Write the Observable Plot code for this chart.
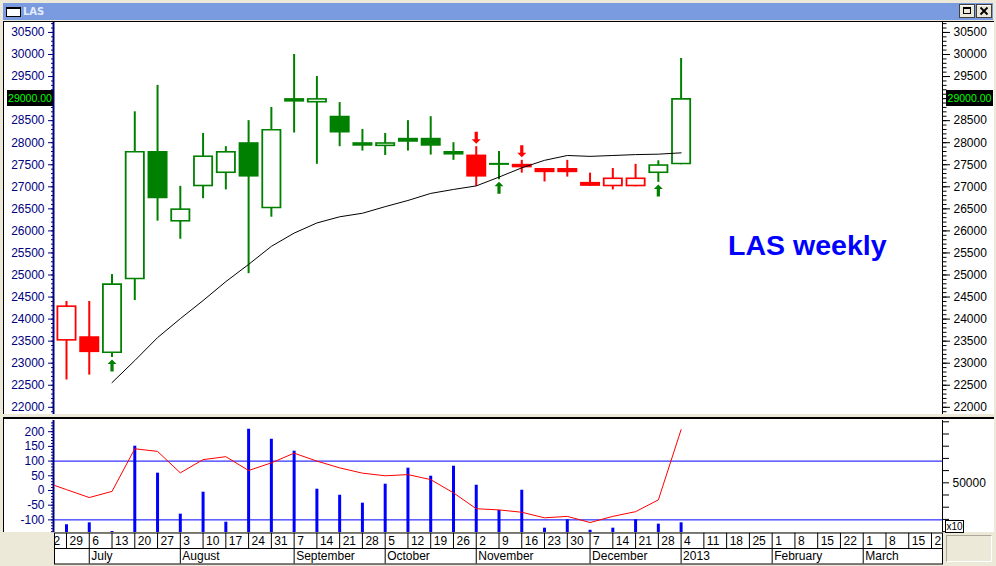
<!DOCTYPE html>
<html><head><meta charset="utf-8">
<script src="https://cdn.jsdelivr.net/npm/d3@7"></script>
<script src="https://cdn.jsdelivr.net/npm/@observablehq/plot@0.6"></script>
<style>
html,body{margin:0;padding:0;background:#ece9d8;}
#root{position:relative;width:996px;height:566px;overflow:hidden;background:#ece9d8;font-family:"Liberation Sans",Arial,sans-serif;}
#root > *{position:absolute;box-sizing:border-box;}
</style></head><body><div id="root"></div>
<script>
// ---------------- data ----------------
const candleDates = ["2012-06-29","2012-07-06","2012-07-13","2012-07-20","2012-07-27","2012-08-03","2012-08-10","2012-08-17","2012-08-24","2012-08-31","2012-09-07","2012-09-14","2012-09-21","2012-09-28","2012-10-05","2012-10-12","2012-10-19","2012-10-26","2012-11-02","2012-11-09","2012-11-16","2012-11-23","2012-11-30","2012-12-07","2012-12-14","2012-12-21","2012-12-28","2013-01-04"];
const opens  = [23500,23600,23220,24890,27800,26200,27000,27300,28000,26500,29000,28900,28600,28000,27910,28100,28100,27800,27720,27520,27510,27415,27415,27100,27000,27000,27300,27500];
const highs  = [24400,24400,25010,28700,29300,27010,28210,27910,28500,28800,30000,29500,28910,28300,28210,28500,28590,28000,27910,27800,27600,27415,27600,27310,27415,27510,27590,29910];
const lows   = [22620,22730,23130,24420,26220,25810,26730,26930,25030,26310,28220,27510,27910,27810,27710,27810,27720,27600,27010,27160,27310,27110,27220,27010,26930,27000,27100,27500];
const closes = [24300,23240,24800,27800,26730,26500,27700,27800,27220,28300,28920,29000,28220,27920,28000,28010,27920,27720,27220,27520,27430,27320,27320,27010,27200,27200,27500,29000];
const candleTrend = ["down","down","up","up","up","up","up","up","up","up","up","up","up","up","up","up","up","up","down","up","down","down","down","down","down","down","up","up"];
const maValues = [null,null,22560,23060,23580,24010,24420,24850,25240,25650,25950,26180,26320,26400,26550,26690,26850,26940,27020,27220,27430,27600,27710,27690,27710,27730,27740,27770];
const buySignals  = ["2012-07-13","2012-11-09","2012-12-28"];
const sellSignals = ["2012-11-02","2012-11-16"];

const cciWeeks  = ["2012-06-22", ...candleDates];
const cciValues = [30,3,-24,-3,142,133,60,105,115,68,94,127,100,77,59,50,54,37,-8,-62,-66,-74,-93,-88,-109,-88,-72,-32,207];
const cciBands  = [100,-100];
const volumes   = [15600,17200,10100,80000,57900,24300,42300,17700,93900,85700,75900,44750,39800,33300,48850,62000,55400,63600,48000,27300,43900,12800,19700,11100,12800,19700,16100,17200];

const priceTicks = d3.range(22000, 30501, 500);
const priceMinor = d3.range(21900, 30701, 100);
const cciTicks = [-100,-50,0,50,100,150,200];
const cciMinor = d3.range(-140, 231, 10);
const volTicks = d3.range(10000, 100001, 10000);
const volLabel = 50000;

const weekLabels = ["22","29","6","13","20","27","3","10","17","24","31","7","14","21","28","5","12","19","26","2","9","16","23","30","7","14","21","28","4","11","18","25","1","8","15","22","1","8","15","22"];
const monthStarts = ["2012-07-06","2012-08-03","2012-09-07","2012-10-05","2012-11-02","2012-12-07","2013-01-04","2013-02-01","2013-03-01"];
const monthLabels = ["July","August","September","October","November","December","2013","February","March"];

// ---------------- helpers ----------------
const NAVY = "#000080", GREEN = "#008000", RED = "#ff0000", BLUE = "#0000ff";
const FONT = "'Liberation Sans', Arial, sans-serif";
const parse = s => new Date(s + "T00:00:00Z");
const WEEK = 7 * 864e5;
const weekDates = d3.utcFriday.range(parse("2012-06-22"), parse("2013-03-23"));
const xDomain = [new Date(+parse(candleDates[0]) - 0.527 * WEEK), new Date(+weekDates[weekDates.length - 1] + 0.483 * WEEK)];
const trendColor = {up: GREEN, down: RED};
const lastClose = closes[closes.length - 1];

const candles = candleDates.map((d, i) => ({
  date: parse(d), open: opens[i], high: highs[i], low: lows[i], close: closes[i],
  color: trendColor[candleTrend[i]], hollow: closes[i] > opens[i], doji: closes[i] === opens[i], ma: maValues[i]
}));
const byDate = new Map(candles.map(d => [+d.date, d]));
const buys = buySignals.map(s => byDate.get(+parse(s)));
const sells = sellSignals.map(s => byDate.get(+parse(s)));
const cci = cciWeeks.map((d, i) => ({date: parse(d), v: cciValues[i]}));
const vols = candleDates.map((d, i) => ({date: parse(d), vol: volumes[i]}));
const weeks = weekDates.map((d, i) => ({date: d, label: weekLabels[i]}));
const months = monthStarts.map((d, i) => ({date: parse(d), label: monthLabels[i]}));

const upArrow = {draw(c){ c.moveTo(0,-6); c.lineTo(4.5,-1.5); c.lineTo(1.6,-1.5); c.lineTo(1.6,6); c.lineTo(-1.6,6); c.lineTo(-1.6,-1.5); c.lineTo(-4.5,-1.5); c.closePath(); }};
const downArrow = {draw(c){ c.moveTo(0,6); c.lineTo(4.5,1.5); c.lineTo(1.6,1.5); c.lineTo(1.6,-6); c.lineTo(-1.6,-6); c.lineTo(-1.6,1.5); c.lineTo(-4.5,1.5); c.closePath(); }};
const hbar = {draw(c){ c.rect(-10,-1,20,2); }};

const root = document.getElementById("root");
function place(el, left, topPx) { el.style.left = left + "px"; el.style.top = topPx + "px"; root.appendChild(el); return el; }
function div(left, topPx, w, h, css, html) {
  const e = document.createElement("div");
  e.style.cssText = `left:${left}px;top:${topPx}px;width:${w}px;height:${h}px;` + (css || "");
  if (html) e.innerHTML = html;
  root.appendChild(e); return e;
}

// ---------------- window chrome ----------------
div(3, 3, 990, 17, "background:#7b9be0;");
div(6, 7, 15, 10, "background:#fff;border:1px solid #000;border-top-width:2px;");
div(23, 3, 60, 17, "font:bold 10px 'DejaVu Sans',sans-serif;color:#e4ebfb;line-height:17px;", "LAS");
const btn = inner => `<svg width="16" height="14" style="display:block"><rect x="0.5" y="0.5" width="15" height="13" fill="#ece9d8" stroke="#404040"/><line x1="1" y1="1.5" x2="15" y2="1.5" stroke="#fff"/>${inner}</svg>`;
div(959, 4, 16, 14, "", btn(`<rect x="4.5" y="3.5" width="7" height="6" fill="none" stroke="#000"/><line x1="4" y1="4.5" x2="12" y2="4.5" stroke="#000"/>`));
div(976, 4, 16, 14, "", btn(`<path d="M4.5 3.5 L11.5 10.5 M11.5 3.5 L4.5 10.5" stroke="#000" stroke-width="1.8"/>`));
div(3, 21, 991, 393, "background:#fff;border-top:1px solid #000;border-left:1px solid #000;");
div(3, 417, 991, 2, "background:#000;");
div(3, 419, 991, 113, "background:#fff;border-left:1px solid #000;");
div(946, 535, 46, 27, "background:#ece9d8;border:1px solid;border-color:#aca899 #fff #fff #aca899;");

// ---------------- price panel ----------------
const baseStyle = {fontFamily: FONT, fontSize: "12px", background: "transparent", overflow: "visible"};
const priceFmt = d => d === lastClose ? "" : String(d);   // the last-close box covers that label
const pricePlot = Plot.plot({
  width: 989, height: 392, marginLeft: 50, marginRight: 51, marginTop: 0, marginBottom: 0,
  style: baseStyle,
  x: {type: "utc", domain: xDomain, axis: null},
  y: {domain: [21836.7, 30725.6], axis: null, label: null},
  color: {type: "identity"},
  marks: [
    Plot.axisY({anchor: "left", ticks: priceMinor, tickSize: 3, tickFormat: () => "", color: NAVY, label: null}),
    Plot.axisY({anchor: "left", ticks: priceTicks, tickSize: 6, tickPadding: 4, tickFormat: priceFmt, color: NAVY, label: null}),
    Plot.axisY({anchor: "right", ticks: priceMinor, tickSize: 3.5, tickFormat: () => "", color: "black", label: null}),
    Plot.axisY({anchor: "right", ticks: priceTicks, tickSize: 7, tickPadding: 4, tickFormat: priceFmt, color: "black", label: null}),
    Plot.ruleX([xDomain[0]], {x: d => d, stroke: NAVY, strokeWidth: 2, dx: -1}),
    Plot.ruleX([xDomain[1]], {x: d => d, stroke: "black"}),
    Plot.ruleX(candles, {x: "date", y1: "low", y2: "high", stroke: d => d.color, strokeWidth: 2}),
    Plot.ruleX(candles, {x: "date", y1: "open", y2: "close", stroke: d => d.color, strokeWidth: 20}),
    Plot.ruleX(candles.filter(d => d.hollow), {x: "date", y1: "close", y2: "open", stroke: "white", strokeWidth: 16.4, insetTop: 1.6, insetBottom: 1.6}),
    Plot.dot(candles.filter(d => d.doji), {x: "date", y: "close", symbol: hbar, fill: d => d.color, stroke: null}),
    Plot.line(candles, {x: "date", y: "ma", stroke: "black", strokeWidth: 1}),
    Plot.dot(buys, {x: "date", y: "low", symbol: upArrow, fill: GREEN, stroke: null, dy: 8}),
    Plot.dot(sells, {x: "date", y: "high", symbol: downArrow, fill: RED, stroke: null, dy: -9}),
    Plot.text(["LAS weekly"], {frameAnchor: "right", textAnchor: "end", dx: -56, dy: 27, fill: BLUE, fontSize: 28.5, fontWeight: "bold"})
  ]
});
place(pricePlot, 4, 22);

// last close label boxes, positioned through the price scale
const ly = 22 + pricePlot.scale("y").apply(lastClose);
const boxCss = "background:#000;color:#00ff00;font:10.5px 'Liberation Sans',Arial,sans-serif;line-height:16px;text-align:center;";
div(7, Math.round(ly - 8), 46, 16, boxCss, lastClose.toFixed(2));
div(946, Math.round(ly - 8), 47, 16, boxCss, lastClose.toFixed(2));

// ---------------- volume panel (underlay) ----------------
const volPlot = Plot.plot({
  width: 989, height: 112, marginLeft: 50, marginRight: 51, marginTop: 0, marginBottom: 0,
  style: baseStyle,
  x: {type: "utc", domain: xDomain, axis: null},
  y: {domain: [9261, 101067], axis: null, label: null},
  marks: [
    Plot.axisY({anchor: "right", ticks: volTicks, tickSize: 6, tickPadding: 4, tickFormat: d => d === volLabel ? String(d) : "", color: "black", label: null}),
    Plot.ruleX([xDomain[1]], {x: d => d, stroke: "black"}),
    Plot.ruleX(vols, {x: "date", y1: "vol", y2: 9261, stroke: BLUE, strokeWidth: 3})
  ]
});
place(volPlot, 4, 420);

// ---------------- CCI panel ----------------
const cciPlot = Plot.plot({
  width: 989, height: 112, marginLeft: 50, marginRight: 51, marginTop: 0, marginBottom: 0,
  style: baseStyle,
  x: {type: "utc", domain: xDomain, axis: null},
  y: {domain: [-142.9, 238.1], axis: null, label: null},
  marks: [
    Plot.axisY({anchor: "left", ticks: cciMinor, tickSize: 3, tickFormat: () => "", color: NAVY, label: null}),
    Plot.axisY({anchor: "left", ticks: cciTicks, tickSize: 6, tickPadding: 4, tickFormat: d => String(d), color: NAVY, label: null}),
    Plot.ruleX([xDomain[0]], {x: d => d, stroke: NAVY, strokeWidth: 2, dx: -1}),
    Plot.ruleY(cciBands, {stroke: BLUE}),
    Plot.line(cci, {x: "date", y: "v", stroke: RED, strokeWidth: 1, clip: true})
  ]
});
place(cciPlot, 4, 420);

div(945, 520, 19, 13, "background:#fff;border:1px solid #000;font:10px 'Liberation Sans',Arial,sans-serif;line-height:11px;text-align:center;", "x10");

// ---------------- date strip ----------------
const strip = Plot.plot({
  width: 989, height: 34, marginLeft: 50, marginRight: 51, marginTop: 1.5, marginBottom: 1.5,
  style: baseStyle,
  x: {type: "utc", domain: xDomain, axis: null},
  y: {domain: [0, 2], axis: null, label: null},
  marks: [
    Plot.frame({fill: "white", stroke: "black"}),
    Plot.ruleY([1], {stroke: "black"}),
    Plot.ruleX(weeks, {x: "date", y1: 1, y2: 2, stroke: "black", clip: true}),
    Plot.text(weeks, {x: "date", y: 1.5, text: "label", textAnchor: "start", dx: 3, fill: "black", clip: true}),
    Plot.ruleX(months, {x: "date", y1: 0, y2: 1, stroke: "black"}),
    Plot.text(months, {x: "date", y: 0.5, text: "label", textAnchor: "start", dx: 2, fill: "black"})
  ]
});
place(strip, 4, 531);
</script></body></html>
